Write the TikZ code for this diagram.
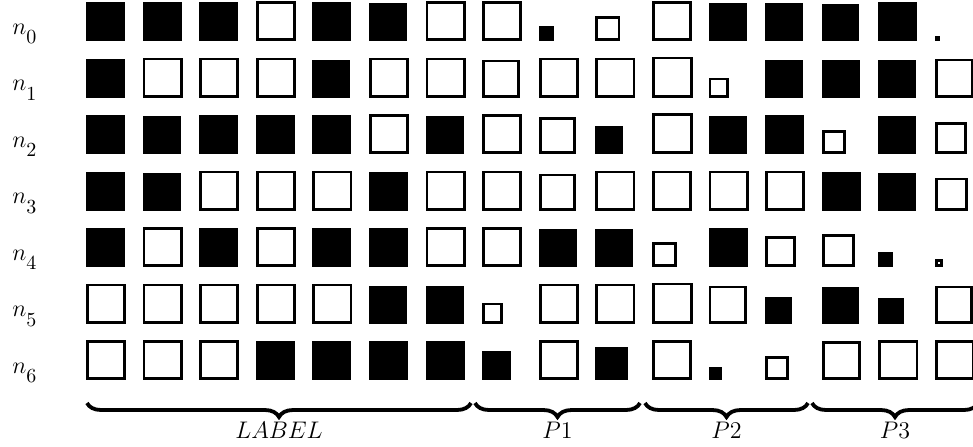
\documentclass[tikz,border=0pt]{standalone}
\usepackage{amsmath, amssymb}
\usepackage{xcolor}
\usepackage{tikz}
\usetikzlibrary{
  decorations.pathreplacing
}
\colorlet{B}{black}
\colorlet{W}{white}
\tikzset{
  cell/.style 2 args = {
    rectangle, draw=black, line width=1.4pt,
    fill=#1, inner sep=0pt,
    minimum size={(#2-2.8)*0.5pt},
    anchor=south west
  },
  rowlbl/.style = {
    anchor=base west, inner sep=0pt, font=\large
  },
  brc/.style = {
    decorate, decoration={brace, mirror, amplitude=7pt},
    line width=1.9pt
  },
  brlbl/.style = {anchor=base, yshift=-17.5pt, font=\large}
}

\begin{document}
\begin{tikzpicture}[x=0.5pt, y=-0.5pt]

  \path[use as bounding box, clip] (0,0) rectangle (973,446);

  % Pattern rows (fill colour / size of each square)
  \foreach \r/\cells in {
    0/{B/39,B/39,B/39,W/40,B/39,B/38,W/40,W/40,B/15,W/25,W/40,B/38,B/38,B/37,B/39,B/5},
    1/{B/39,W/40,W/40,W/40,B/38,W/40,W/40,W/38,W/40,W/40,W/41,W/20,B/38,B/38,B/38,W/39},
    2/{B/39,B/38,B/39,B/39,B/39,W/40,B/38,W/40,W/37,B/28,W/41,B/38,B/39,W/24,B/38,W/32},
    3/{B/39,B/38,W/40,W/40,W/40,B/39,W/40,W/40,W/37,W/40,W/40,W/40,W/40,B/39,B/38,W/33},
    4/{B/39,W/40,B/39,W/40,B/39,B/39,W/40,W/40,B/38,B/38,W/25,B/39,W/31,W/33,B/15,W/8},
    5/{W/40,W/40,W/40,W/40,W/40,B/38,B/38,W/21,W/40,W/40,W/41,W/38,B/27,B/37,B/26,W/38},
    6/{W/40,W/40,W/40,B/39,B/39,B/39,B/39,B/29,W/40,B/33,W/40,B/13,W/24,W/39,W/40,W/40}}
  {
    \foreach \t/\s [count=\c] in \cells
      \node[cell={\t}{\s}] (c\r-\c) at ({86+(\c-1)*56.6}, {41+\r*56.5}) {};
  }

  % Row labels (left)
  \foreach \r in {0,...,6}
    \node[rowlbl] (n\r) at (12, {34+\r*56.5})
      {$n_{\raisebox{-3pt}{\normalsize$\r$}}$};

  % Braces under the groups
  \foreach \a/\b/\txt [count=\k] in {87/471/LABEL, 475/640/P1, 645/808/P2, 812/978/P3}
  {
    \coordinate (bs\k) at (\a,403);
    \coordinate (be\k) at (\b,403);
    \draw[brc] (bs\k) -- (be\k) node[midway, brlbl] (g\k) {$\txt$};
  }

\end{tikzpicture}
\end{document}
